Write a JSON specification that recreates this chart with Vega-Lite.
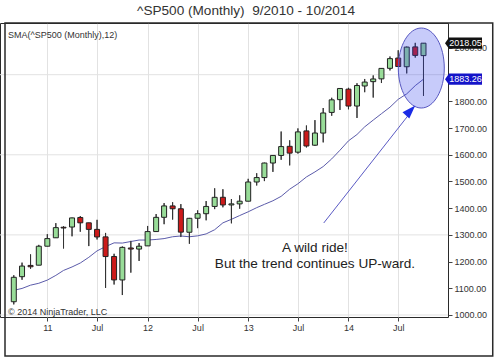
{
  "$schema": "https://vega.github.io/schema/vega-lite/v6.json",
  "width": 448,
  "height": 294,
  "autosize": "none",
  "padding": {"left": 0, "top": 23, "right": 52, "bottom": 40},
  "background": "white",
  "title": {"text": "^SP500 (Monthly)\u00a0 9/2010 - 10/2014", "anchor": "middle", "frame": "group", "dx": 22, "offset": -6, "baseline": "alphabetic", "fontSize": 13.6, "fontWeight": "normal", "font": "Liberation Sans", "color": "#333333"},
  "datasets": {
    "bars": [
      {"d": "2010-09-01", "o": 1049.72, "h": 1148.90, "l": 1039.70, "c": 1141.20, "sma": 1092.46},
      {"d": "2010-10-01", "o": 1143.49, "h": 1196.14, "l": 1131.87, "c": 1183.26, "sma": 1099.47},
      {"d": "2010-11-01", "o": 1185.71, "h": 1227.08, "l": 1173.00, "c": 1180.55, "sma": 1111.73},
      {"d": "2010-12-01", "o": 1186.60, "h": 1262.60, "l": 1186.60, "c": 1257.64, "sma": 1118.80},
      {"d": "2011-01-01", "o": 1257.62, "h": 1302.67, "l": 1257.62, "c": 1286.12, "sma": 1130.68},
      {"d": "2011-02-01", "o": 1289.14, "h": 1344.07, "l": 1289.14, "c": 1327.22, "sma": 1148.37},
      {"d": "2011-03-01", "o": 1328.64, "h": 1332.28, "l": 1249.05, "c": 1325.83, "sma": 1166.93},
      {"d": "2011-04-01", "o": 1329.48, "h": 1364.56, "l": 1294.70, "c": 1363.61, "sma": 1179.96},
      {"d": "2011-05-01", "o": 1365.21, "h": 1370.58, "l": 1311.80, "c": 1345.20, "sma": 1194.71},
      {"d": "2011-06-01", "o": 1345.20, "h": 1345.20, "l": 1258.07, "c": 1320.64, "sma": 1216.02},
      {"d": "2011-07-01", "o": 1320.64, "h": 1356.48, "l": 1282.86, "c": 1292.28, "sma": 1240.18},
      {"d": "2011-08-01", "o": 1292.59, "h": 1307.38, "l": 1101.54, "c": 1218.89, "sma": 1256.07},
      {"d": "2011-09-01", "o": 1219.12, "h": 1229.29, "l": 1114.22, "c": 1131.42, "sma": 1270.20},
      {"d": "2011-10-01", "o": 1131.21, "h": 1256.55, "l": 1074.77, "c": 1253.30, "sma": 1269.39},
      {"d": "2011-11-01", "o": 1251.00, "h": 1277.55, "l": 1158.66, "c": 1246.96, "sma": 1275.23},
      {"d": "2011-12-01", "o": 1246.91, "h": 1269.37, "l": 1202.37, "c": 1257.60, "sma": 1280.76},
      {"d": "2012-01-01", "o": 1258.86, "h": 1333.47, "l": 1258.86, "c": 1312.41, "sma": 1280.76},
      {"d": "2012-02-01", "o": 1312.45, "h": 1378.04, "l": 1312.45, "c": 1365.68, "sma": 1282.95},
      {"d": "2012-03-01", "o": 1365.90, "h": 1419.15, "l": 1340.03, "c": 1408.47, "sma": 1286.15},
      {"d": "2012-04-01", "o": 1408.47, "h": 1422.38, "l": 1357.38, "c": 1397.91, "sma": 1293.04},
      {"d": "2012-05-01", "o": 1397.86, "h": 1415.32, "l": 1291.98, "c": 1310.33, "sma": 1295.90},
      {"d": "2012-06-01", "o": 1309.87, "h": 1363.46, "l": 1266.74, "c": 1362.16, "sma": 1292.99},
      {"d": "2012-07-01", "o": 1362.33, "h": 1391.74, "l": 1325.41, "c": 1379.32, "sma": 1296.45},
      {"d": "2012-08-01", "o": 1379.32, "h": 1426.68, "l": 1354.65, "c": 1406.58, "sma": 1303.70},
      {"d": "2012-09-01", "o": 1406.54, "h": 1474.51, "l": 1396.56, "c": 1440.67, "sma": 1319.35},
      {"d": "2012-10-01", "o": 1440.90, "h": 1470.96, "l": 1403.28, "c": 1412.16, "sma": 1345.12},
      {"d": "2012-11-01", "o": 1412.20, "h": 1434.27, "l": 1343.35, "c": 1416.18, "sma": 1358.35},
      {"d": "2012-12-01", "o": 1416.18, "h": 1448.00, "l": 1398.11, "c": 1426.19, "sma": 1372.46},
      {"d": "2013-01-01", "o": 1426.19, "h": 1509.94, "l": 1426.19, "c": 1498.11, "sma": 1386.51},
      {"d": "2013-02-01", "o": 1498.11, "h": 1530.94, "l": 1485.01, "c": 1514.68, "sma": 1401.98},
      {"d": "2013-03-01", "o": 1514.68, "h": 1570.28, "l": 1501.48, "c": 1569.19, "sma": 1414.40},
      {"d": "2013-04-01", "o": 1569.18, "h": 1597.57, "l": 1536.03, "c": 1597.57, "sma": 1427.79},
      {"d": "2013-05-01", "o": 1597.55, "h": 1687.18, "l": 1581.28, "c": 1630.74, "sma": 1444.43},
      {"d": "2013-06-01", "o": 1631.71, "h": 1654.19, "l": 1560.33, "c": 1606.28, "sma": 1471.13},
      {"d": "2013-07-01", "o": 1609.78, "h": 1698.78, "l": 1604.57, "c": 1685.73, "sma": 1491.47},
      {"d": "2013-08-01", "o": 1689.42, "h": 1709.67, "l": 1627.47, "c": 1632.97, "sma": 1517.01},
      {"d": "2013-09-01", "o": 1635.95, "h": 1729.86, "l": 1633.41, "c": 1681.55, "sma": 1535.87},
      {"d": "2013-10-01", "o": 1681.34, "h": 1775.22, "l": 1646.47, "c": 1756.54, "sma": 1555.95},
      {"d": "2013-11-01", "o": 1758.70, "h": 1813.55, "l": 1746.20, "c": 1805.81, "sma": 1584.64},
      {"d": "2013-12-01", "o": 1806.55, "h": 1849.44, "l": 1767.99, "c": 1848.36, "sma": 1617.11},
      {"d": "2014-01-01", "o": 1845.86, "h": 1850.84, "l": 1770.45, "c": 1782.59, "sma": 1652.29},
      {"d": "2014-02-01", "o": 1782.68, "h": 1867.92, "l": 1737.92, "c": 1859.45, "sma": 1676.00},
      {"d": "2014-03-01", "o": 1857.68, "h": 1883.97, "l": 1834.44, "c": 1872.34, "sma": 1704.73},
      {"d": "2014-04-01", "o": 1873.96, "h": 1897.28, "l": 1814.36, "c": 1883.95, "sma": 1729.99},
      {"d": "2014-05-01", "o": 1884.39, "h": 1924.03, "l": 1868.77, "c": 1923.57, "sma": 1753.86},
      {"d": "2014-06-01", "o": 1923.87, "h": 1968.17, "l": 1915.98, "c": 1960.23, "sma": 1778.26},
      {"d": "2014-07-01", "o": 1962.29, "h": 1991.39, "l": 1930.67, "c": 1930.67, "sma": 1807.76},
      {"d": "2014-08-01", "o": 1929.80, "h": 2005.04, "l": 1904.78, "c": 2003.37, "sma": 1828.17},
      {"d": "2014-09-01", "o": 2004.07, "h": 2019.26, "l": 1964.04, "c": 1972.29, "sma": 1859.04},
      {"d": "2014-10-01", "o": 1971.44, "h": 2018.19, "l": 1820.66, "c": 2018.05, "sma": 1883.26}
    ],
    "grid": [{"g": 1000}, {"g": 1300}, {"g": 1600}, {"g": 1900}],
    "tags": [{"p": 2018.05, "k": "last"}, {"p": 1883.26, "k": "sma"}]
  },
  "data": {"name": "bars"},
  "layer": [
    {
      "data": {"name": "grid"},
      "mark": {"type": "rule", "color": "#e2e2e2", "strokeWidth": 1},
      "encoding": {
        "y": {"field": "g", "type": "quantitative", "title": null, "scale": {"domain": [992.5, 2093.6], "nice": false, "zero": false},
          "axis": {"orient": "right", "values": [1000, 1100, 1200, 1300, 1400, 1500, 1600, 1700, 1800, 2000], "tickCount": 11, "format": ".2f", "title": null, "grid": false, "domain": false, "ticks": true, "tickSize": 4, "tickColor": "#444444", "labelFontSize": 9, "labelColor": "#333333", "labelPadding": 2, "labelFont": "Liberation Sans", "labelOverlap": false}}
      }
    },
    {
      "mark": {"type": "rule", "color": "#333333", "strokeWidth": 1},
      "encoding": {
        "x": {"field": "d", "type": "temporal", "title": null, "scale": {"type": "utc", "domain": [{"year": 2010, "month": 7, "date": 31, "utc": true}, {"year": 2014, "month": 12, "date": 11, "utc": true}], "nice": false},
          "axis": {"orient": "bottom", "values": [{"year": 2011, "month": 1, "date": 1, "utc": true}, {"year": 2011, "month": 7, "date": 1, "utc": true}, {"year": 2012, "month": 1, "date": 1, "utc": true}, {"year": 2012, "month": 7, "date": 1, "utc": true}, {"year": 2013, "month": 1, "date": 1, "utc": true}, {"year": 2013, "month": 7, "date": 1, "utc": true}, {"year": 2014, "month": 1, "date": 1, "utc": true}, {"year": 2014, "month": 7, "date": 1, "utc": true}],
            "labelExpr": "utcFormat(datum.value, '%m') == '01' ? utcFormat(datum.value, '%y') : 'Jul'", "title": null, "grid": true, "gridColor": "#e2e2e2", "domain": false, "tickSize": 4, "tickColor": "#444444", "labelFontSize": 9, "labelColor": "#333333", "labelPadding": 2, "labelFont": "Liberation Sans", "labelFlush": false, "labelOverlap": false}},
        "y": {"field": "l", "type": "quantitative", "title": null,
          "axis": {"orient": "right", "values": [1000, 1100, 1200, 1300, 1400, 1500, 1600, 1700, 1800, 2000], "tickCount": 11, "format": ".2f", "title": null, "grid": false, "domain": false, "ticks": true, "tickSize": 4, "tickColor": "#444444", "labelFontSize": 9, "labelColor": "#333333", "labelPadding": 2, "labelFont": "Liberation Sans", "labelOverlap": false}},
        "y2": {"field": "h"}
      }
    },
    {
      "mark": {"type": "line", "color": "#5b5baa", "strokeWidth": 1},
      "encoding": {
        "x": {"field": "d", "type": "temporal", "title": null},
        "y": {"field": "sma", "type": "quantitative", "title": null}
      }
    },
    {
      "mark": {"type": "rule", "color": "#333333", "strokeWidth": 1},
      "encoding": {
        "x": {"field": "d", "type": "temporal", "title": null},
        "y": {"field": "l", "type": "quantitative", "title": null},
        "y2": {"field": "h"}
      }
    },
    {
      "mark": {"type": "bar", "size": 5, "stroke": "#222222", "strokeWidth": 1},
      "encoding": {
        "x": {"field": "d", "type": "temporal", "title": null},
        "y": {"field": "o", "type": "quantitative", "title": null},
        "y2": {"field": "c"},
        "fill": {"condition": {"test": "datum.c < datum.o", "value": "#cc1a1a"}, "value": "#98dc98"}
      }
    },
    {
      "data": {"values": [{}]},
      "mark": {"type": "rect", "filled": false, "stroke": "#2a2a2a", "strokeWidth": 1.5},
      "encoding": {
        "x": {"datum": {"year": 2010, "month": 7, "date": 31, "utc": true}, "type": "temporal", "title": null},
        "x2": {"datum": {"year": 2015, "month": 6, "date": 10, "utc": true}},
        "y": {"datum": 2093.6, "type": "quantitative", "title": null},
        "y2": {"datum": 846.4}
      }
    },
    {
      "data": {"values": [{}]},
      "mark": {"type": "point", "shape": "M0,-1C0.3176,-1,0.575,-0.5523,0.575,0C0.575,0.5523,0.3176,1,0,1C-0.3176,1,-0.575,0.5523,-0.575,0C-0.575,-0.5523,-0.3176,-1,0,-1Z", "size": 6400, "filled": true, "fill": "#3040ee", "fillOpacity": 0.27, "stroke": "#5656c0", "strokeWidth": 1, "strokeOpacity": 1, "opacity": 1},
      "encoding": {
        "x": {"datum": {"year": 2014, "month": 9, "date": 23, "utc": true}, "type": "temporal", "title": null},
        "y": {"datum": 1925, "type": "quantitative", "title": null}
      }
    },
    {
      "data": {"values": [{}]},
      "mark": {"type": "rule", "color": "#5a5ac4", "strokeWidth": 1},
      "encoding": {
        "x": {"datum": {"year": 2013, "month": 10, "date": 3, "utc": true}, "type": "temporal", "title": null},
        "y": {"datum": 1344.6, "type": "quantitative", "title": null},
        "x2": {"datum": {"year": 2014, "month": 8, "date": 19, "utc": true}},
        "y2": {"datum": 1764}
      }
    },
    {
      "data": {"values": [{}]},
      "mark": {"type": "point", "shape": "M0,-1L0.68,1L-0.68,1Z", "size": 188, "angle": 43, "filled": true, "fill": "#1a2be6", "strokeWidth": 0, "opacity": 1},
      "encoding": {
        "x": {"datum": {"year": 2014, "month": 8, "date": 15, "utc": true}, "type": "temporal", "title": null},
        "y": {"datum": 1766.3, "type": "quantitative", "title": null}
      }
    },
    {
      "data": {"values": [{}]},
      "mark": {"type": "text", "align": "center", "baseline": "alphabetic", "fontSize": 13.6, "lineHeight": 16, "font": "Liberation Sans", "color": "#222222"},
      "encoding": {
        "x": {"datum": {"year": 2013, "month": 9, "date": 1, "utc": true}, "type": "temporal", "title": null},
        "y": {"datum": 1236, "type": "quantitative", "title": null},
        "text": {"value": ["A wild ride!", "But the trend continues UP-ward."]}
      }
    },
    {
      "data": {"values": [{}]},
      "mark": {"type": "text", "align": "left", "baseline": "middle", "dx": 3, "fontSize": 9, "font": "Liberation Sans", "color": "#333333"},
      "encoding": {
        "x": {"datum": {"year": 2010, "month": 7, "date": 31, "utc": true}, "type": "temporal", "title": null},
        "y": {"datum": 2048.7, "type": "quantitative", "title": null},
        "text": {"value": "SMA(^SP500 (Monthly),12)"}
      }
    },
    {
      "data": {"values": [{}]},
      "mark": {"type": "text", "align": "left", "baseline": "middle", "dx": 3, "fontSize": 9, "font": "Liberation Sans", "color": "#333333"},
      "encoding": {
        "x": {"datum": {"year": 2010, "month": 7, "date": 31, "utc": true}, "type": "temporal", "title": null},
        "y": {"datum": 1010.1, "type": "quantitative", "title": null},
        "text": {"value": "© 2014 NinjaTrader, LLC"}
      }
    },
    {
      "data": {"name": "tags"},
      "mark": {"type": "point", "shape": "M-1,0L-0.78,-0.3L1,-0.3L1,0.3L-0.78,0.3Z", "size": 1369, "xOffset": 20.5, "filled": true, "strokeWidth": 0, "opacity": 1},
      "encoding": {
        "x": {"datum": {"year": 2014, "month": 12, "date": 11, "utc": true}, "type": "temporal", "title": null},
        "y": {"field": "p", "type": "quantitative", "title": null},
        "fill": {"condition": {"test": "datum.k == 'sma'", "value": "#1414c8"}, "value": "#111111"}
      }
    },
    {
      "data": {"name": "tags"},
      "mark": {"type": "text", "align": "center", "baseline": "middle", "xOffset": 22.5, "fontSize": 9, "font": "Liberation Sans", "color": "#ffffff"},
      "encoding": {
        "x": {"datum": {"year": 2014, "month": 12, "date": 11, "utc": true}, "type": "temporal", "title": null},
        "y": {"field": "p", "type": "quantitative", "title": null},
        "text": {"field": "p", "type": "quantitative", "format": ".2f"}
      }
    }
  ],
  "config": {
    "view": {"stroke": "#2a2a2a", "strokeWidth": 1},
    "font": "Liberation Sans",
    "axis": {"labelOverlap": false}
  }
}
